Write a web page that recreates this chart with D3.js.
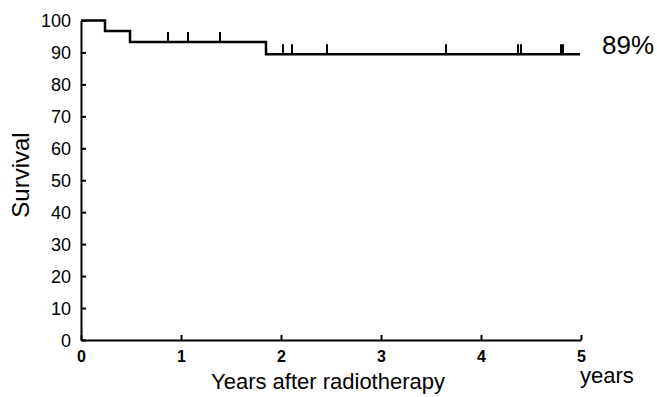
<!DOCTYPE html>
<html>
<head>
<meta charset="utf-8">
<script src="https://cdn.jsdelivr.net/npm/d3@7"></script>
<style>
  body { margin: 0; background: #fff; }
  text { font-family: "Liberation Sans", Arial, sans-serif; fill: #000; }
</style>
</head>
<body>
<div id="km"></div>
<script>
// survival steps: time (years) where each level starts, and survival %
var stepTimes = [0, 0.24, 0.49, 1.85];
var stepValues = [100, 96.7, 93.3, 89.4];
var endTime = 4.99;

// censored patients (years)
var censorTimes = [0.87, 1.07, 1.39, 2.02, 2.11, 2.46, 3.65, 4.37, 4.40, 4.80, 4.82];

var xTicks = [0, 1, 2, 3, 4, 5];
var yTicks = [0, 10, 20, 30, 40, 50, 60, 70, 80, 90, 100];

var margin = {top: 20.5, right: 76, bottom: 57, left: 81},
    width = 657 - margin.left - margin.right,
    height = 397 - margin.top - margin.bottom;

var svg = d3.select("#km")
  .append("svg")
    .attr("width", 657)
    .attr("height", 397)
  .append("g")
    .attr("transform", "translate(" + margin.left + "," + margin.top + ")");

var x = d3.scaleLinear()
  .domain([0, 5])
  .range([0, width]);

var y = d3.scaleLinear()
  .domain([0, 100])
  .range([height, 0]);

// Y axis, ticks pointing inward
var yAxis = svg.append("g")
  .call(d3.axisLeft(y).tickValues(yTicks).tickSizeInner(-5).tickSizeOuter(0).tickPadding(10));
yAxis.select(".domain").attr("stroke-width", 2);
yAxis.selectAll(".tick line").attr("stroke-width", 2);
yAxis.selectAll(".tick text")
  .style("font-size", "18px")
  .attr("dy", "0.36em");

// X axis, ticks pointing inward
var xAxis = svg.append("g")
  .attr("transform", "translate(0," + height + ")")
  .call(d3.axisBottom(x).tickValues(xTicks).tickFormat(d3.format("d"))
    .tickSizeInner(-5).tickSizeOuter(0).tickPadding(10));
xAxis.select(".domain").attr("stroke-width", 2);
xAxis.selectAll(".tick line").attr("stroke-width", 2);
xAxis.selectAll(".tick text")
  .style("font-size", "16px")
  .style("font-weight", "bold")
  .attr("dy", "0.72em");

// step curve
var pts = [];
stepTimes.forEach(function(t, i) {
  if (i > 0) pts.push([t, stepValues[i - 1]]);
  pts.push([t, stepValues[i]]);
});
pts.push([endTime, stepValues[stepValues.length - 1]]);

svg.append("path")
  .datum(pts)
  .attr("fill", "none")
  .attr("stroke", "#000")
  .attr("stroke-width", 2.5)
  .attr("d", d3.line()
    .x(function(d) { return x(d[0]); })
    .y(function(d) { return y(d[1]); }));

// survival at a given time
function survAt(t) {
  var v = stepValues[0];
  stepTimes.forEach(function(s, i) { if (t >= s) v = stepValues[i]; });
  return v;
}

// censor marks
svg.append("g")
  .selectAll("line")
  .data(censorTimes)
  .enter()
  .append("line")
    .attr("x1", function(d) { return x(d); })
    .attr("x2", function(d) { return x(d); })
    .attr("y1", function(d) { return y(survAt(d)); })
    .attr("y2", function(d) { return y(survAt(d)) - 10; })
    .attr("stroke", "#000")
    .attr("stroke-width", 2);

// final survival label, baseline on the last level
svg.append("text")
  .attr("x", x(5) + 21)
  .attr("y", y(stepValues[stepValues.length - 1]))
  .style("font-size", "26px")
  .text("89%");

// axis titles
svg.append("text")
  .attr("transform", "rotate(-90)")
  .attr("x", -(175 - margin.top))
  .attr("y", 29 - margin.left)
  .attr("text-anchor", "middle")
  .style("font-size", "24px")
  .text("Survival");

svg.append("text")
  .attr("x", 328 - margin.left)
  .attr("y", 389 - margin.top)
  .attr("text-anchor", "middle")
  .style("font-size", "22px")
  .text("Years after radiotherapy");

svg.append("text")
  .attr("x", 580 - margin.left)
  .attr("y", 383 - margin.top)
  .style("font-size", "22px")
  .text("years");
</script>
</body>
</html>
